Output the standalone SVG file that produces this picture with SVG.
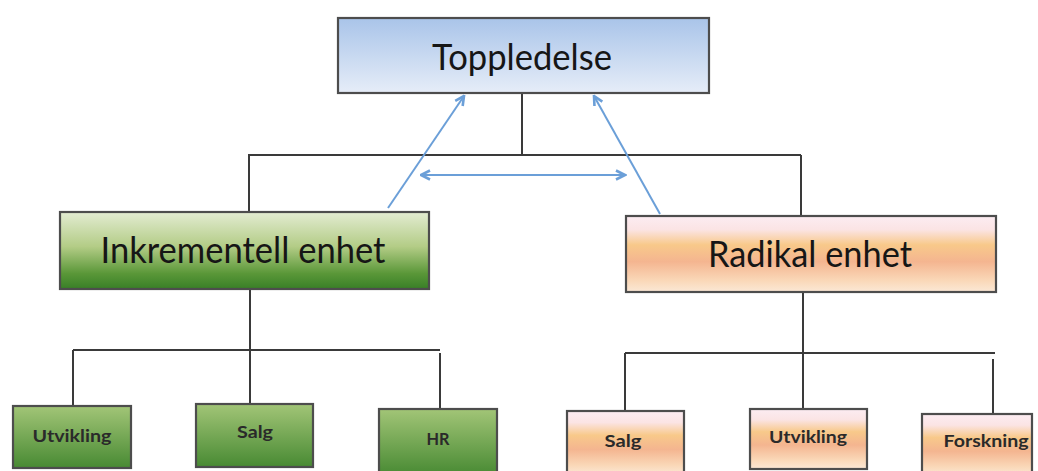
<svg xmlns="http://www.w3.org/2000/svg" width="1038" height="471" viewBox="0 0 1038 471">
  <defs>
    <linearGradient id="gBlue" x1="0" y1="0" x2="0" y2="1">
      <stop offset="0" stop-color="#a9c4e9"/>
      <stop offset="1" stop-color="#e6edf8"/>
    </linearGradient>
    <linearGradient id="gGreen" x1="0" y1="0" x2="0" y2="1">
      <stop offset="0" stop-color="#e3ecd2"/>
      <stop offset="0.45" stop-color="#b3cc86"/>
      <stop offset="0.8" stop-color="#5a9738"/>
      <stop offset="1" stop-color="#387f27"/>
    </linearGradient>
    <linearGradient id="gGreenSmall" x1="0" y1="0" x2="0" y2="1">
      <stop offset="0" stop-color="#a2c577"/>
      <stop offset="1" stop-color="#488a33"/>
    </linearGradient>
    <linearGradient id="gOrange" x1="0" y1="0" x2="0" y2="1">
      <stop offset="0" stop-color="#fcecf2"/>
      <stop offset="0.18" stop-color="#fbe4e4"/>
      <stop offset="0.38" stop-color="#f8c98a"/>
      <stop offset="0.6" stop-color="#f4b590"/>
      <stop offset="0.85" stop-color="#fad8b8"/>
      <stop offset="1" stop-color="#fbe8d6"/>
    </linearGradient>
    <marker id="chev" viewBox="0 0 12 12" refX="10.5" refY="6" markerWidth="12" markerHeight="12" markerUnits="userSpaceOnUse" orient="auto-start-reverse">
      <path d="M1.5,1.5 L10.5,6 L1.5,10.5" fill="none" stroke="#6b9fd8" stroke-width="2.6" stroke-linejoin="miter"/>
    </marker>
  </defs>
  <style>
    .box { stroke: #4d4d4d; stroke-width: 2.2; }
    .lbl { font-family: Lato, "Open Sans", "Liberation Sans", sans-serif; fill: #161616; text-anchor: middle; }
    .big { font-size: 36px; }
    .small { font-size: 17px; font-weight: bold; fill: #2a2a2a; }
    .tree { stroke: #3a3a3a; stroke-width: 2; fill: none; }
    .rel { stroke: #6b9fd8; stroke-width: 2; fill: none; }
  </style>
  <rect width="1038" height="471" fill="#ffffff"/>

  <!-- hierarchy connectors and relation arrows -->
  <g id="connectors">
    <path class="tree" d="M522,93 V155 M248,155 H801 M249,155 V212 M801,155 V216"/>
    <path class="tree" d="M250,289 V404 M73,350 H440 M73,350 V406 M440,353 V409"/>
    <path class="tree" d="M803,292 V409 M625,353 H995 M625,353 V411 M993,359 V414"/>
    <line class="rel" x1="388" y1="208" x2="464" y2="96" marker-end="url(#chev)"/>
    <line class="rel" x1="660" y1="214" x2="594" y2="96" marker-end="url(#chev)"/>
    <line class="rel" x1="421" y1="175" x2="625" y2="175" marker-start="url(#chev)" marker-end="url(#chev)"/>
  </g>

  <g id="toppledelse">
    <rect class="box" x="338" y="18" width="371" height="75" fill="url(#gBlue)"/>
    <text class="lbl big" x="522" y="70" textLength="180" lengthAdjust="spacingAndGlyphs">Toppledelse</text>
  </g>

  <g id="inkrementell">
    <rect class="box" x="60" y="212" width="369" height="77" fill="url(#gGreen)"/>
    <text class="lbl big" x="243" y="263" textLength="285" lengthAdjust="spacingAndGlyphs">Inkrementell enhet</text>
  </g>

  <g id="radikal">
    <rect class="box" x="626" y="216" width="370" height="76" fill="url(#gOrange)"/>
    <text class="lbl big" x="810" y="267" font-size="34" textLength="204" lengthAdjust="spacingAndGlyphs">Radikal enhet</text>
  </g>

  <g id="ink-utvikling">
    <rect class="box" x="13" y="406" width="118" height="62" fill="url(#gGreenSmall)"/>
    <text class="lbl small" x="72" y="442" textLength="79" lengthAdjust="spacingAndGlyphs">Utvikling</text>
  </g>
  <g id="ink-salg">
    <rect class="box" x="196" y="404" width="117" height="63" fill="url(#gGreenSmall)"/>
    <text class="lbl small" x="255" y="438" textLength="36" lengthAdjust="spacingAndGlyphs">Salg</text>
  </g>
  <g id="ink-hr">
    <rect class="box" x="379" y="409" width="118" height="66" fill="url(#gGreenSmall)"/>
    <text class="lbl small" x="438" y="445" textLength="23" lengthAdjust="spacingAndGlyphs">HR</text>
  </g>

  <g id="rad-salg">
    <rect class="box" x="567" y="411" width="117" height="64" fill="url(#gOrange)"/>
    <text class="lbl small" x="623" y="447" textLength="37" lengthAdjust="spacingAndGlyphs">Salg</text>
  </g>
  <g id="rad-utvikling">
    <rect class="box" x="750" y="409" width="117" height="60" fill="url(#gOrange)"/>
    <text class="lbl small" x="808" y="443" textLength="78" lengthAdjust="spacingAndGlyphs">Utvikling</text>
  </g>
  <g id="rad-forskning">
    <rect class="box" x="922" y="414" width="110" height="62" fill="url(#gOrange)"/>
    <text class="lbl small" x="986" y="447" textLength="85" lengthAdjust="spacingAndGlyphs">Forskning</text>
  </g>
</svg>
